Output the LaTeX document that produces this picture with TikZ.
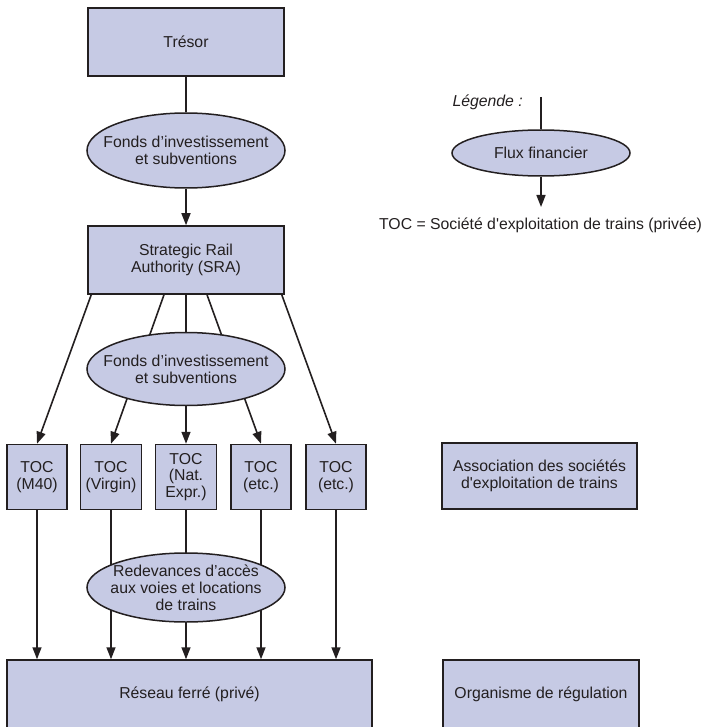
\documentclass[tikz,border=0pt]{standalone}
\usepackage{fontspec}
\setmainfont{Liberation Sans}[Ligatures=TeXOff]
\usetikzlibrary{shapes.geometric,arrows.meta}
\definecolor{boxfill}{RGB}{198,202,228}
\definecolor{ink}{RGB}{35,31,32}
\begin{document}
\begin{tikzpicture}[x=1pt,y=-1pt,
  every node/.style={font=\fontsize{15.8}{16.8}\selectfont, text=ink, align=center, inner sep=0pt},
  box/.style={draw=ink, fill=boxfill, line width=1.5pt, rectangle},
  oval/.style={draw=ink, fill=boxfill, line width=1.5pt, ellipse},
  link/.style={draw=ink, line width=1.6pt},
  arr/.style={link, -{Triangle[length=12pt,width=9pt]}}]
\useasboundingbox (0,0) rectangle (704,727);
\clip (0,0) rectangle (704,727);

% main column
\node[box, minimum width=196pt, minimum height=68pt] (tresor) at (186,42) {Trésor};
\node[oval, minimum width=198pt, minimum height=75pt, label={[name=f1t]center:Fonds d’investissement\\et subventions}] (f1) at (186,150.5) {};
\node[box, minimum width=196pt, minimum height=68pt] (sra) at (186,260) {Strategic Rail\\Authority (SRA)};

\node[box, minimum width=60pt, minimum height=65pt] (toc1) at (37,477) {TOC\\(M40)};
\node[box, minimum width=61pt, minimum height=65pt] (toc2) at (111,477) {TOC\\(Virgin)};
\node[box, minimum width=61pt, minimum height=65pt] (toc3) at (186,477) {TOC\\(Nat.\\Expr.)};
\node[box, minimum width=60pt, minimum height=65pt] (toc4) at (261,477) {TOC\\(etc.)};
\node[box, minimum width=60pt, minimum height=65pt] (toc5) at (336,477) {TOC\\(etc.)};

\node[box, minimum width=365pt, minimum height=69pt] (reseau) at (189.5,694.5) {Réseau ferré (privé)};

% right column
\node[box, minimum width=195pt, minimum height=66pt] (assoc) at (539.5,476) {Association des sociétés\\d'exploitation de trains};
\node[box, minimum width=196pt, minimum height=69pt] (org) at (541,694.5) {Organisme de régulation};

% connectors
\draw[link] (tresor.south) -- (f1.north);
\draw[arr] (f1.south) -- (sra.north);

\draw[arr] ([xshift=4pt]sra.south west) -- (toc1.north);
\draw[arr] ([xshift=-22pt]sra.south) -- (toc2.north);
\draw[arr] (sra.south) -- (toc3.north);
\draw[arr] ([xshift=21pt]sra.south) -- (toc4.north);
\draw[arr] ([xshift=-3pt]sra.south east) -- (toc5.north);

\node[oval, minimum width=198pt, minimum height=73pt, label={[name=f2t]center:Fonds d’investissement\\et subventions}] (f2) at (186,369) {};

\foreach \i in {1,...,5}{
  \draw[arr] (toc\i.south) -- (toc\i.south |- reseau.north);
}

\node[oval, minimum width=198pt, minimum height=69pt, label={[name=redt]center:Redevances d’accès\\aux voies et locations\\de trains}] (red) at (186,587.5) {};

% legend
\node[font=\fontsize{15.8}{16.8}\selectfont\itshape, anchor=east] (leg) at (523,102) {Légende :};
\coordinate (ltop) at (541,97);
\node[oval, minimum width=178pt, minimum height=46pt, label={[name=lft]center:Flux financier}] (lf) at (541,153) {};
\coordinate (lbot) at (541,207);
\draw[link] (ltop) -- (lf.north);
\draw[arr] (lf.south) -- (lbot);
\node (toclegend) at (540.5,225) {TOC = Société d'exploitation de trains (privée)};
\end{tikzpicture}
\end{document}
